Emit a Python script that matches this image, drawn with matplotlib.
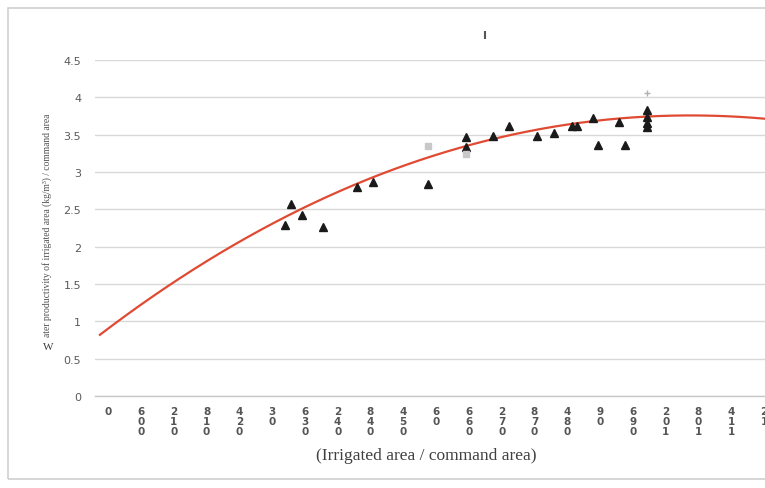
import numpy as np
import matplotlib
matplotlib.use("Agg")
import matplotlib.pyplot as plt
from matplotlib.patches import Rectangle

# ---- data ----
x_ticks = [0, 0.06, 0.12, 0.18, 0.24, 0.3, 0.36, 0.42, 0.48, 0.54, 0.6,
           0.66, 0.72, 0.78, 0.84, 0.9, 0.96, 1.02, 1.08, 1.14, 1.2]
y_ticks = [0, 0.5, 1, 1.5, 2, 2.5, 3, 3.5, 4, 4.5]

obs_x = [0.324, 0.335, 0.355, 0.393, 0.455, 0.485, 0.585, 0.655, 0.655,
         0.704, 0.733, 0.785, 0.816, 0.849, 0.858, 0.887, 0.896, 0.935,
         0.946, 0.986, 0.986, 0.986, 0.986]
obs_y = [2.29, 2.57, 2.42, 2.26, 2.80, 2.86, 2.84, 3.47, 3.33,
         3.48, 3.61, 3.48, 3.52, 3.61, 3.61, 3.72, 3.36, 3.67,
         3.36, 3.83, 3.73, 3.65, 3.60]

faint_x = [0.585, 0.655]
faint_y = [3.35, 3.24]

mark_x = [0.690]
mark_y = [4.83]
plus_x = [0.986]
plus_y = [4.06]

# trend line
trend_x = [-0.015, 0.013, 0.11, 0.229, 0.357, 0.507, 0.726, 0.90, 1.06, 1.2]
trend_y = [0.79, 1.0, 1.5, 2.0, 2.5, 3.0, 3.5, 3.68, 3.75, 3.72]

x_label = "(Irrigated area / command area)"
y_label = "ater productivity of irrigated area (kg/m³) / command area"

# ---- figure ----
W, H = 765, 489
fig = plt.figure(figsize=(W / 100, H / 100), dpi=100)
fig.patch.set_facecolor("white")

# outer frame
fig.add_artist(Rectangle((8 / W, 9 / H), (W + 10 - 8) / W, (480 - 9) / H,
                         transform=fig.transFigure, fill=False,
                         edgecolor="#d0d0d0", linewidth=1.2))

ax = fig.add_axes([95 / W, (H - 397) / H, (765 - 95) / W, (397 - 61) / H])
ax.set_xlim(-0.024, 1.2018)
ax.set_ylim(0, 4.5)

for s in ["top", "right", "left"]:
    ax.spines[s].set_visible(False)
ax.spines["bottom"].set_color("#c8c8c8")
ax.spines["bottom"].set_linewidth(1.0)

ax.set_yticks(y_ticks)
ax.set_yticklabels([f"{v:g}" for v in y_ticks])
ax.yaxis.grid(True, color="#d9d9d9", linewidth=1.0)
ax.set_axisbelow(True)
ax.tick_params(axis="y", length=0, pad=10, labelsize=8, labelcolor="#5a5a5a")

ax.set_xticks(x_ticks)
lbls = ["\n".join(reversed(f"{v:g}".replace(".", ""))) for v in x_ticks]
ax.set_xticklabels(lbls, family="DejaVu Sans", fontsize=7.5, fontweight="bold",
                   linespacing=1.0, color="#555555", va="top")
ax.tick_params(axis="x", length=0, pad=7)

# trend line
coef = np.polyfit(trend_x, trend_y, 3)
xx = np.linspace(min(trend_x), max(trend_x), 300)
ax.plot(xx, np.polyval(coef, xx), color="#e04a33", linewidth=1.6, zorder=3)

# observations
ax.plot(obs_x, obs_y, linestyle="none", marker="^", markersize=5.5,
        color="#1a1a1a", zorder=4)
ax.plot(faint_x, faint_y, linestyle="none", marker="s", markersize=4,
        color="#c8c8c8", zorder=4)
ax.plot(mark_x, mark_y, linestyle="none", marker="|", markersize=6,
        color="#555555", markeredgewidth=1.5, clip_on=False, zorder=4)
ax.plot(plus_x, plus_y, linestyle="none", marker="+", markersize=5,
        color="#b0b0b0", clip_on=False, zorder=4)

# axis titles
fig.text(426 / W, 1 - 456 / H, x_label, family="Liberation Serif",
         fontsize=12.5, color="#404040", ha="center", va="center")
fig.text(47 / W, 1 - 225 / H, y_label, family="Liberation Serif",
         fontsize=6.9, color="#505050", rotation=90, ha="center", va="center")
fig.text(48 / W, 1 - 348 / H, "W", family="Liberation Serif",
         fontsize=8, color="#404040", ha="center", va="center")

fig.savefig("out.png", dpi=100, facecolor="white")
